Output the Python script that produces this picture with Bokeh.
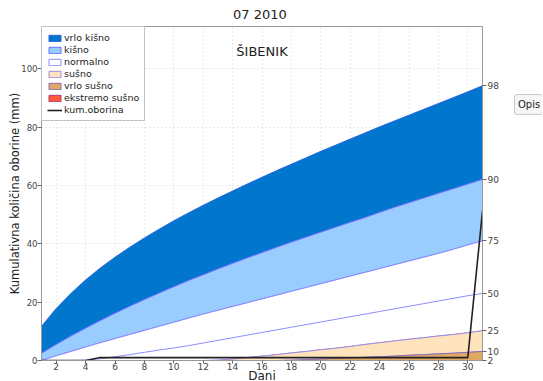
from bokeh.plotting import figure
from bokeh.models import (Range1d, LinearAxis, FixedTicker, Legend, LegendItem,
                          Label, Div, Spacer)
from bokeh.layouts import row, column
from bokeh.embed import file_html
from bokeh.resources import INLINE

days = list(range(1, 32))
p98 = [11.7, 17.8, 23.0, 27.6, 31.7, 35.4, 38.8, 42.0, 45.0, 47.9, 50.6, 53.2, 55.7, 58.1,
       60.5, 62.8, 65.1, 67.3, 69.5, 71.7, 73.8, 75.9, 78.0, 80.1, 82.1, 84.1, 86.1, 88.1,
       90.1, 92.1, 94.2]
p90 = [2.5, 5.5, 8.4, 11.1, 13.7, 16.2, 18.6, 20.9, 23.1, 25.3, 27.4, 29.4, 31.4, 33.3,
       35.2, 37.0, 38.8, 40.6, 42.3, 44.0, 45.7, 47.4, 49.0, 50.8, 52.5, 54.1, 55.7, 57.3,
       58.9, 60.5, 62.1]
p75 = [0.0, 1.6, 3.1, 4.6, 6.1, 7.5, 8.9, 10.3, 11.7, 13.1, 14.5, 15.9, 17.2, 18.5,
       19.8, 21.1, 22.4, 23.7, 25.0, 26.3, 27.6, 28.9, 30.2, 31.5, 32.8, 34.1, 35.4, 36.7,
       38.1, 39.6, 41.0]
p50 = [0.0, 0.0, 0.0, 0.1, 0.6, 1.3, 2.0, 2.8, 3.6, 4.3, 5.1, 6.0, 6.9, 7.8,
       8.7, 9.6, 10.5, 11.4, 12.3, 13.2, 14.1, 15.0, 15.9, 16.8, 17.7, 18.6, 19.5, 20.4,
       21.3, 22.2, 23.0]
p25 = [0.0, 0.0, 0.0, 0.0, 0.0, 0.0, 0.0, 0.0, 0.0, 0.0, 0.0, 0.0, 0.1, 0.5,
       1.0, 1.5, 2.0, 2.6, 3.1, 3.7, 4.2, 4.8, 5.5, 6.1, 6.7, 7.3, 7.8, 8.4,
       8.9, 9.5, 10.2]
p10 = [0.0, 0.0, 0.0, 0.0, 0.0, 0.0, 0.0, 0.0, 0.0, 0.0, 0.0, 0.0, 0.0, 0.0,
       0.0, 0.0, 0.0, 0.1, 0.3, 0.5, 0.7, 0.9, 1.1, 1.3, 1.5, 1.8, 2.0, 2.3,
       2.5, 2.8, 3.1]
p2 = [0.0] * 31
base = [0.0] * 31
kum = [0.0, 0.0, 0.0, 0.0, 1.0, 1.0, 1.0, 1.0, 1.0, 1.0, 1.0, 1.0, 1.0, 1.0,
       1.0, 1.0, 1.0, 1.0, 1.0, 1.0, 1.0, 1.0, 1.0, 1.0, 1.0, 1.0, 1.0, 1.0,
       1.0, 1.0, 51.2]

pct_labels = ["98", "90", "75", "50", "25", "10", "2"]
x_ticks = list(range(2, 31, 2))
y_ticks = [0, 20, 40, 60, 80, 100]

band_names = ["vrlo kišno", "kišno", "normalno", "sušno", "vrlo sušno", "ekstremo sušno"]
band_fill = ["#0077CC", "#99CCFF", "#FFFFFF", "#FFE3BD", "#E0A862", "#FF5A3C"]
band_line = ["#2A66E6", "#6F6FFF", "#8C8CFF", "#A08CDC", "#8A6CC0", "#B03A70"]
uppers = [p98, p90, p75, p25, p10, p2]
lowers = [p90, p75, p25, p10, p2, base]

FONT = "DejaVu Sans"

p = figure(frame_width=441, frame_height=334, x_range=Range1d(1, 31), y_range=Range1d(0, 114.5),
           output_backend="svg", toolbar_location=None,
           min_border_left=0, min_border_right=24, min_border_top=0, min_border_bottom=0)

p.title.text = "07  2010"
p.title.align = "center"
p.title.text_font = FONT
p.title.text_font_size = "13px"
p.title.text_font_style = "normal"
p.title.text_color = "#222222"
p.title.standoff = 9

items = []
for name, fc, lc, up, lo in zip(band_names, band_fill, band_line, uppers, lowers):
    r = p.patch(days + days[::-1], up + lo[::-1], fill_color=fc, line_color=lc, line_width=1)
    items.append(LegendItem(label=name, renderers=[r]))

p.line(days, p50, line_color="#8C8CFF", line_width=1)
rk = p.line(days, kum, line_color="#222222", line_width=1.6)
items.append(LegendItem(label="kum.oborina", renderers=[rk]))

legend = Legend(items=items, location="top_left", margin=0, padding=5, spacing=1,
                border_line_color="#888888", background_fill_alpha=1.0,
                label_text_font=FONT, label_text_font_size="9.5px", label_text_color="#222222",
                glyph_height=8, glyph_width=15, label_height=8, label_standoff=2)
p.add_layout(legend)

p.add_layout(Label(x=16, y=106, text="ŠIBENIK", text_align="center", text_baseline="middle",
                   text_font=FONT, text_font_size="13px", text_color="#222222"))

# axes
for ax in (p.xaxis[0], p.yaxis[0]):
    ax.major_label_text_font = FONT
    ax.major_label_text_color = "#444444"
    ax.axis_label_text_font = FONT
    ax.axis_label_text_font_style = "normal"
    ax.axis_label_text_color = "#222222"
    ax.axis_line_color = "#999999"
    ax.major_tick_line_color = "#666666"
    ax.major_tick_in = 0
    ax.minor_tick_line_color = None

p.xaxis.ticker = FixedTicker(ticks=x_ticks)
p.xaxis.axis_label = "Dani"
p.xaxis.axis_label_text_font_size = "12px"
p.xaxis.major_label_text_font_size = "9px"
p.xaxis.major_tick_out = 3
p.xaxis.major_label_standoff = -1
p.xaxis.axis_label_standoff = -4

p.yaxis.ticker = FixedTicker(ticks=y_ticks)
p.yaxis.axis_label = "Kumulativna količina oborine (mm)"
p.yaxis.axis_label_text_font_size = "11.5px"
p.yaxis.major_label_text_font_size = "8.5px"
p.yaxis.major_tick_out = 4
p.yaxis.major_label_standoff = 0
p.yaxis.axis_label_standoff = -4

# empty outer axis on the left, only to leave a small blank margin
pad_axis = LinearAxis(ticker=FixedTicker(ticks=[]), axis_label=" ",
                      axis_label_text_font_size="5px", axis_label_standoff=-4,
                      axis_line_color=None, major_tick_line_color=None,
                      minor_tick_line_color=None, major_label_text_font_size="0px",
                      major_tick_out=0, major_label_standoff=0)
p.add_layout(pad_axis, "left")

end_vals = [s[-1] for s in uppers[:3]] + [p50[-1]] + [s[-1] for s in uppers[3:]]
right = LinearAxis(ticker=FixedTicker(ticks=end_vals),
                   major_label_overrides={v: t for v, t in zip(end_vals, pct_labels)})
right.major_label_text_font = FONT
right.major_label_text_font_size = "9px"
right.major_label_text_color = "#444444"
right.axis_line_color = "#999999"
right.major_tick_line_color = "#666666"
right.major_tick_out = 4
right.major_tick_in = 0
right.minor_tick_line_color = None
right.major_label_standoff = 1
p.add_layout(right, "right")

p.xgrid.ticker = FixedTicker(ticks=x_ticks)
p.ygrid.ticker = FixedTicker(ticks=y_ticks)
p.grid.grid_line_color = "#d4d4d4"
p.grid.grid_line_dash = "1 3"
p.outline_line_color = "#999999"
p.background_fill_color = "white"

opis = Div(text='<div style="margin-left:3px;border:1px solid #c8c8c8;border-radius:3px;'
                'background:#f6f6f6;font:10px DejaVu Sans;color:#222;padding:4px 2px 4px 3px;'
                'white-space:nowrap;">Opis</div>',
           width=31, styles={"overflow": "hidden"})
layout = row(p, column(Spacer(height=89), opis))

open("out.html", "w").write(file_html(layout, INLINE))
